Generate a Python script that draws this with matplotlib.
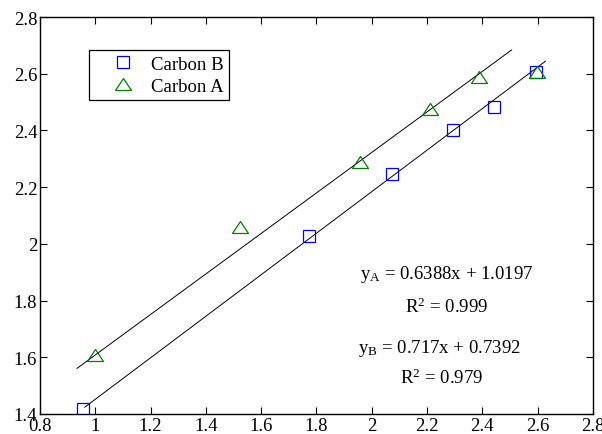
import matplotlib.pyplot as plt
from matplotlib.path import Path

plt.rcParams['font.family'] = ['Liberation Serif', 'DejaVu Serif']
plt.rcParams['mathtext.fontset'] = 'custom'
plt.rcParams['mathtext.rm'] = 'Liberation Serif'
plt.rcParams['mathtext.it'] = 'Liberation Serif:italic'

# Carbon B (squares)
b_x = [0.954, 1.774, 2.073, 2.292, 2.442, 2.595]
b_y = [1.417, 2.029, 2.247, 2.402, 2.482, 2.605]
# Carbon A (triangles)
a_x = [0.999, 1.525, 1.957, 2.211, 2.388, 2.596]
a_y = [1.608, 2.060, 2.290, 2.476, 2.588, 2.605]

# fitted lines as drawn: slope, intercept, x range
fit_a = (0.7144, 0.8937, 0.934, 2.506)
fit_b = (0.7323, 0.7195, 0.962, 2.628)

eq_a = 'y$_{\\rm A}$ = 0.6388x + 1.0197'
r2_a = 'R$^{2}$ = 0.999'
eq_b = 'y$_{\\rm B}$ = 0.717x + 0.7392'
r2_b = 'R$^{2}$ = 0.979'

tri = Path([(-1, -0.75), (1, -0.75), (0, 0.75), (-1, -0.75)],
           [Path.MOVETO, Path.LINETO, Path.LINETO, Path.CLOSEPOLY])

fs = 13.5

fig = plt.figure(figsize=(6.02, 4.35), dpi=100)
ax = fig.add_axes([0.0664, 0.046, 0.9186, 0.9126])

for m, c, x0, x1 in [fit_a, fit_b]:
    ax.plot([x0, x1], [m * x0 + c, m * x1 + c], color='black', lw=0.7, zorder=1)

ax.plot(b_x, b_y, ls='none', marker='s', ms=8.6, mfc='none', mec='blue',
        mew=0.9, label='Carbon B', zorder=3)
ax.plot(a_x, a_y, ls='none', marker=tri, ms=11.5, mfc='none', mec='green',
        mew=0.9, label='Carbon A', zorder=3)

ax.text(2.27, 1.894, eq_a, ha='center', va='center', fontsize=fs)
ax.text(2.27, 1.781, r2_a, ha='center', va='center', fontsize=fs)
ax.text(2.245, 1.636, eq_b, ha='center', va='center', fontsize=fs)
ax.text(2.252, 1.530, r2_b, ha='center', va='center', fontsize=fs)

ax.set_xlim(0.8, 2.8)
ax.set_ylim(1.4, 2.8)
ax.set_xticks([0.8, 1, 1.2, 1.4, 1.6, 1.8, 2, 2.2, 2.4, 2.6, 2.8])
ax.set_xticklabels(['0.8', '1', '1.2', '1.4', '1.6', '1.8', '2', '2.2', '2.4', '2.6', '2.8'])
ax.set_yticks([1.4, 1.6, 1.8, 2, 2.2, 2.4, 2.6, 2.8])
ax.set_yticklabels(['1.4', '1.6', '1.8', '2', '2.2', '2.4', '2.6', '2.8'])
ax.tick_params(direction='in', top=True, right=True, length=5, width=0.8,
               labelsize=fs, pad=2)
for s in ax.spines.values():
    s.set_linewidth(1.0)

leg = ax.legend(loc='upper left', bbox_to_anchor=(0.089, 0.917), borderaxespad=0,
                fancybox=False, edgecolor='black', framealpha=1, fontsize=fs,
                handletextpad=0.0, borderpad=0.3, labelspacing=0.25, handlelength=3.0)
leg.get_frame().set_linewidth(0.9)

plt.savefig('out.png', dpi=100)
